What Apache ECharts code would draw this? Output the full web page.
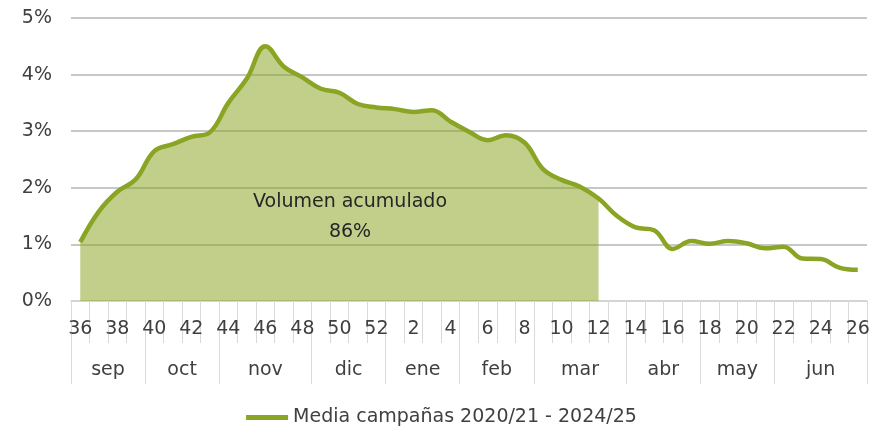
<!DOCTYPE html>
<html>
<head>
<meta charset="utf-8">
<script src="https://cdn.jsdelivr.net/npm/echarts@6/dist/echarts.min.js"></script>
<style>
  html, body { margin: 0; padding: 0; background: #fff; }
  #chart { width: 883px; height: 432px; }
</style>
</head>
<body>
<div id="chart"></div>
<script>
// semanas de campaña (36..52, 1..26)
const weeks = [36, 37, 38, 39, 40, 41, 42, 43, 44, 45, 46, 47, 48, 49, 50, 51, 52,
  1, 2, 3, 4, 5, 6, 7, 8, 9, 10, 11, 12, 13, 14, 15, 16, 17, 18, 19, 20, 21, 22, 23, 24, 25, 26];

// % semanal, media campañas 2020/21 - 2024/25
const mediaValues = [1.04, 1.58, 1.93, 2.15, 2.65, 2.77, 2.90, 2.98, 3.50, 3.93,
  4.50, 4.14, 3.95, 3.75, 3.68, 3.48, 3.42, 3.39, 3.34, 3.37,
  3.17, 2.99, 2.84, 2.93, 2.80, 2.33, 2.14, 2.02, 1.81, 1.50,
  1.30, 1.25, 0.92, 1.06, 1.01, 1.06, 1.02, 0.93, 0.96, 0.75,
  0.74, 0.59, 0.55];

// volumen acumulado hasta la semana 12
const lastAccumWeek = 12;
const accumLabel = "Volumen acumulado\n86%";

const months = ["sep", "oct", "nov", "dic", "ene", "feb", "mar", "abr", "may", "jun"];
// limites de mes en número de semanas desde el inicio
const monthBounds = [0, 4, 8, 13, 17, 21, 25, 30, 34, 38, 43];

const yTicks = [0, 1, 2, 3, 4, 5];
const seriesName = "Media campañas 2020/21 - 2024/25";

const FONT = "DejaVu Sans";
const TXT = "#404040";

const accumIdx = weeks.indexOf(lastAccumWeek);
const accumData = mediaValues.map((v, i) => (i <= accumIdx ? v : "-"));
const monthCenters = months.map((m, i) => (monthBounds[i] + monthBounds[i + 1]) / 2);

const chart = echarts.init(document.getElementById("chart"));

chart.setOption({
  animation: false,
  textStyle: { fontFamily: FONT },
  grid: {
    top: 18,
    left: 71,
    right: 16,
    bottom: 131,
    containLabel: false,
  },
  legend: {
    data: [{ name: seriesName, icon: "rect" }],
    bottom: 0,
    left: "center",
    itemWidth: 42,
    itemHeight: 5,
    itemGap: 10,
    textStyle: { fontFamily: FONT, fontSize: 19, color: TXT },
  },
  xAxis: [
    {
      type: "category",
      data: weeks,
      boundaryGap: true,
      axisLine: { lineStyle: { color: "#d9d9d9", width: 1.5 } },
      axisTick: {
        show: true,
        interval: 0,
        length: 42,
        lineStyle: { color: "#d9d9d9", width: 1 },
      },
      axisLabel: {
        interval: 1,
        margin: 19,
        fontFamily: FONT,
        fontSize: 19,
        color: TXT,
      },
      splitLine: { show: false },
    },
    {
      type: "value",
      position: "bottom",
      min: 0,
      max: 43,
      axisLine: { show: false },
      splitLine: { show: false },
      axisTick: {
        show: true,
        customValues: monthBounds,
        length: 83,
        lineStyle: { color: "#d9d9d9", width: 1 },
      },
      axisLabel: {
        customValues: monthCenters,
        margin: 60,
        fontFamily: FONT,
        fontSize: 19,
        color: TXT,
        formatter: (v) => {
          const i = monthCenters.indexOf(v);
          return i >= 0 ? months[i] : "";
        },
      },
    },
  ],
  yAxis: {
    type: "value",
    min: 0,
    max: 5,
    interval: 1,
    axisLine: { show: false },
    axisTick: { show: false },
    axisLabel: {
      margin: 19,
      fontFamily: FONT,
      fontSize: 19,
      color: TXT,
      formatter: (v) => (yTicks.includes(v) ? v + "%" : ""),
    },
    splitLine: { lineStyle: { color: "#b4b4b4", width: 1.5 } },
  },
  graphic: [
    {
      type: "text",
      x: 350,
      y: 187,
      style: {
        text: accumLabel,
        fill: "#262626",
        font: "19px " + FONT,
        align: "center",
        verticalAlign: "top",
        lineHeight: 30,
      },
      z: 10,
    },
  ],
  series: [
    {
      name: "acumulado",
      type: "line",
      data: accumData,
      smooth: 0.4,
      symbol: "none",
      lineStyle: { width: 0 },
      areaStyle: { color: "rgba(138,164,36,0.53)", opacity: 1 },
      silent: true,
      z: 1,
    },
    {
      name: seriesName,
      type: "line",
      data: mediaValues,
      smooth: 0.4,
      symbol: "none",
      color: "#8aa424",
      lineStyle: { color: "#8aa424", width: 4.5 },
      z: 3,
    },
  ],
});
</script>
</body>
</html>
